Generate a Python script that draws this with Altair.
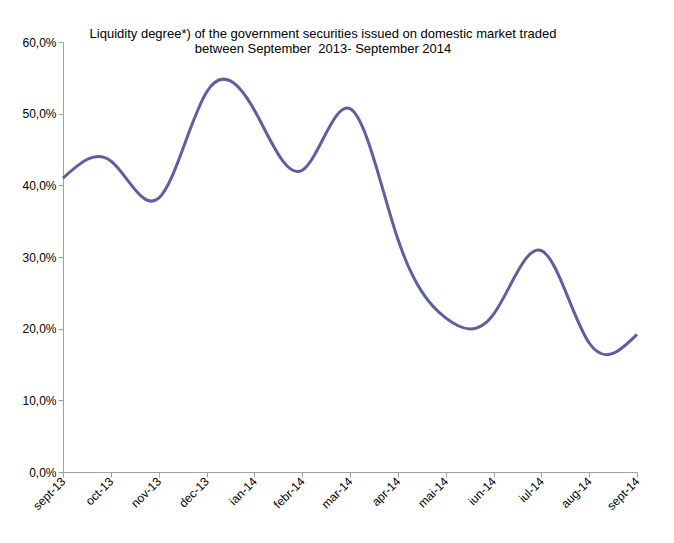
import altair as alt
import pandas as pd

months = ["sept-13", "oct-13", "nov-13", "dec-13", "ian-14", "febr-14", "mar-14",
          "apr-14", "mai-14", "iun-14", "iul-14", "aug-14", "sept-14"]
values = [0.410, 0.434, 0.382, 0.530, 0.505, 0.421, 0.507,
          0.325, 0.215, 0.220, 0.309, 0.180, 0.192]
y_ticks = [0.0, 0.1, 0.2, 0.3, 0.4, 0.5, 0.6]
title_lines = ["Liquidity degree*) of the government securities issued on domestic market traded",
               "between September\u00a0 2013- September 2014"]

df = pd.DataFrame({"month": months, "value": values})

FONT = "Liberation Sans"

line = alt.Chart(df).mark_line(
    interpolate="natural", color="#5F5F9D", strokeWidth=3
).encode(
    x=alt.X("month:O", sort=months, scale=alt.Scale(type="point", padding=0),
            axis=alt.Axis(title=None, labelAngle=-45, labelAlign="right", labelBaseline="middle",
                          labelFont=FONT, labelFontSize=12, labelColor="#000",
                          domainColor="#A0A0A0", tickColor="#A0A0A0", tickSize=5,
                          labelPadding=2, grid=False)),
    y=alt.Y("value:Q", scale=alt.Scale(domain=[0, 0.6], nice=False),
            axis=alt.Axis(title=None, values=y_ticks, format=".1%",
                          labelExpr="replace(datum.label, '.', ',')",
                          labelFont=FONT, labelFontSize=12, labelColor="#000",
                          domainColor="#A0A0A0", tickColor="#A0A0A0", tickSize=5,
                          labelPadding=2, grid=False)),
)

chart = line.properties(
    width=574, height=430,
    title=alt.TitleParams(text=title_lines, font=FONT, fontSize=13, fontWeight="normal",
                          color="#000", anchor="middle", dx=-27, dy=24, lineHeight=15),
    autosize=alt.AutoSizeParams(type="none"),
    padding={"left": 55, "top": 34, "right": 20, "bottom": 50},
).configure_view(stroke=None)

chart.save("out.html", embed_options={"renderer": "svg", "actions": False})
